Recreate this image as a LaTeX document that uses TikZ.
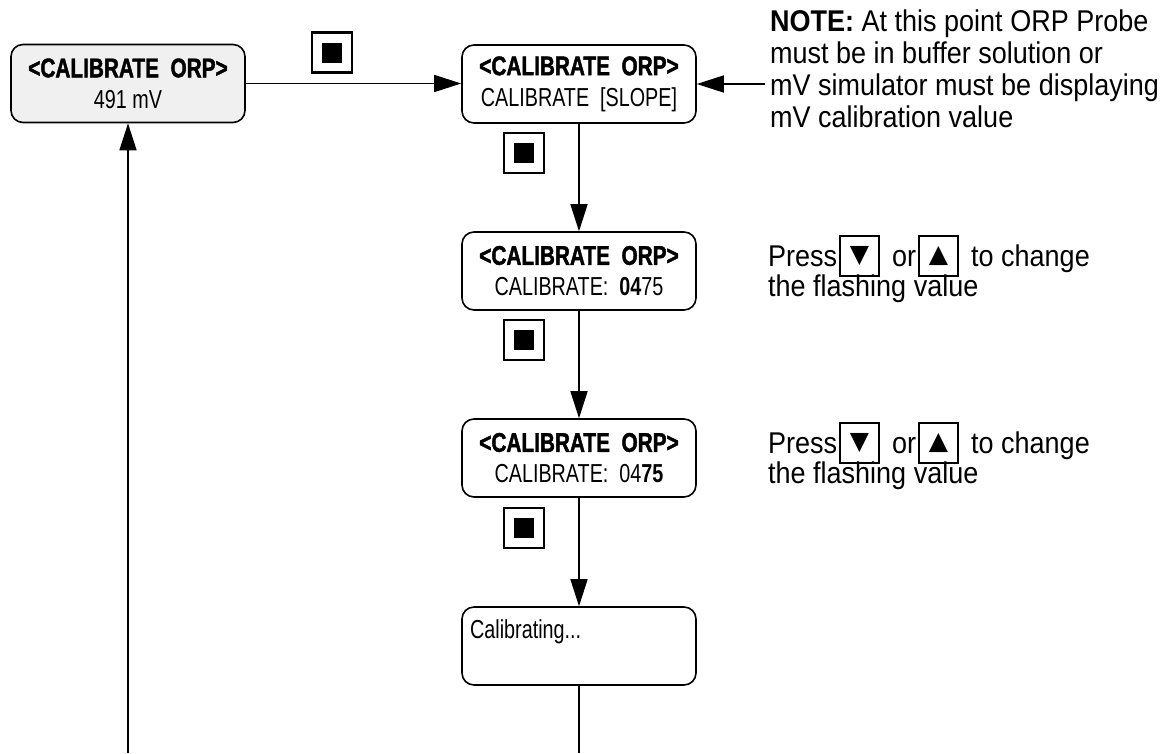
\documentclass[tikz,border=0pt]{standalone}
\usepackage{fontspec}
\setmainfont{Liberation Sans}
\newfontfamily\hdfont[FakeStretch=0.77, FakeBold=1.5]{Liberation Sans}
\newfontfamily\lcdfont[FakeStretch=0.76]{Liberation Sans}
\newfontfamily\notefont[FakeStretch=0.9]{Liberation Sans}
\newfontfamily\symfont{DejaVu Sans}
\usetikzlibrary{arrows.meta}
\definecolor{boxgray}{HTML}{F0F0F0}
\begin{document}
\begin{tikzpicture}[x=1pt,y=-1pt,
  lcd/.style={draw, line width=1.6pt, rounded corners=12pt, minimum width=234pt,
    minimum height=78pt, align=center, inner sep=0pt,
    font=\lcdfont\fontsize{26}{31}\selectfont},
  conn/.style={line width=1.6pt, -{Triangle[length=27pt,width=17pt]}},
  plain/.style={line width=1.6pt},
  btn/.style={draw, line width=2.2pt, minimum size=40pt, inner sep=0pt},
  keybox/.style={draw, line width=1.3pt, minimum width=39pt, minimum height=40pt, inner sep=0pt,
    font=\symfont\fontsize{25}{25}\selectfont},
  note/.style={anchor=base west, inner sep=0pt, align=left,
    font=\notefont\fontsize{30}{32}\selectfont}]
\useasboundingbox (0,0) rectangle (1169,753);
\newcommand{\hd}{{\hdfont\bfseries\fontsize{27}{31}\selectfont <CALIBRATE\ \ ORP>}}
% boxes
\node[lcd, fill=boxgray] (A) at (128,83.5) {\hd\\491 mV};
\node[lcd] (B) at (579,84) {\hd\\CALIBRATE\ \ [SLOPE]};
\node[lcd] (C) at (579,271) {\hd\\CALIBRATE:\ \ {\bfseries 04}75};
\node[lcd] (D) at (579,458) {\hd\\CALIBRATE:\ \ 04{\bfseries 75}};
\node[lcd] (E) at (579,646) {};
\node[anchor=west, inner sep=0pt, font=\lcdfont\fontsize{26}{31}\selectfont] (Etext) at (470,632) {Calibrating...};
% buttons
\node[btn] (b1) at (332,52.5) {\rule{20pt}{20pt}};
\node[btn] (b2) at (524,153) {\rule{20pt}{20pt}};
\node[btn] (b3) at (524,340) {\rule{20pt}{20pt}};
\node[btn] (b4) at (524,528) {\rule{20pt}{20pt}};
% coordinates
\coordinate (noteend) at (765,84);
\coordinate (bottomE) at (579,753);
\coordinate (bottomA) at (128,753);
% connectors
\draw[conn] (A.east) -- (A.east -| B.west);
\draw[conn] (noteend) -- (noteend -| B.east);
\draw[conn] (B.south) -- (C.north);
\draw[conn] (C.south) -- (D.north);
\draw[conn] (D.south) -- (E.north);
\draw[plain] (E.south) -- (bottomE);
\draw[conn] (bottomA) -- (A.south);
% note (base anchor = baseline of the last line)
\node[note] (nt) at (770,127) {{\bfseries NOTE:} At this point ORP Probe\\must be in buffer solution or\\mV simulator must be displaying\\mV calibration value};
% press 1
\node[note] (p1) at (768,266) {Press};
\node[keybox] (kd1) at (859.5,256) {▼};
\node[note] (o1) at (892,266) {or};
\node[keybox] (ku1) at (938.5,256) {▲};
\node[note] (t1) at (971,266) {to change};
\node[note] (f1) at (768,296) {the flashing value};
% press 2
\node[note] (p2) at (768,453) {Press};
\node[keybox] (kd2) at (859.5,443) {▼};
\node[note] (o2) at (892,453) {or};
\node[keybox] (ku2) at (938.5,443) {▲};
\node[note] (t2) at (971,453) {to change};
\node[note] (f2) at (768,483) {the flashing value};
\end{tikzpicture}
\end{document}
